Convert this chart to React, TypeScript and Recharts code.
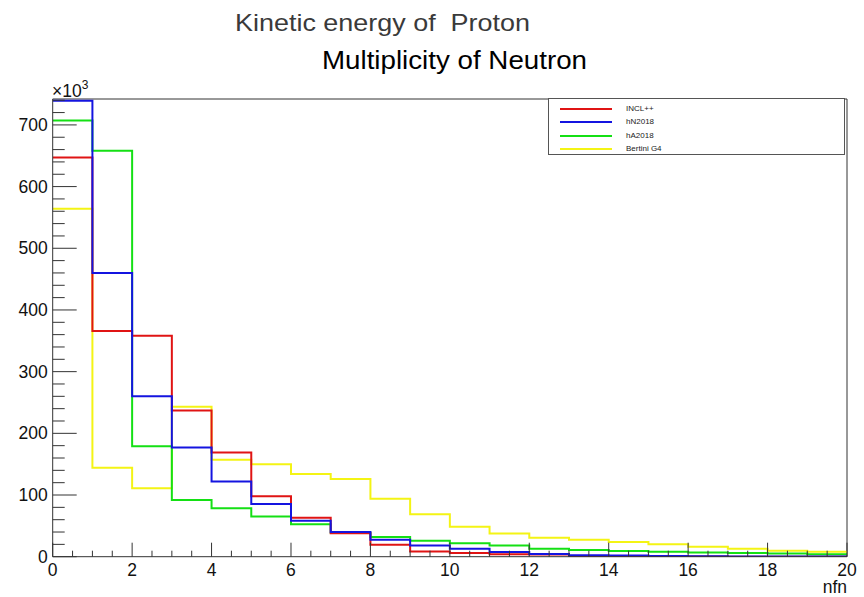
import React from 'react';
import { ComposedChart, Line, XAxis, YAxis, Legend, ReferenceLine, Customized } from 'recharts';

// Bin edges for nfn (20 bins of width 1)
const binEdges = [0, 1, 2, 3, 4, 5, 6, 7, 8, 9, 10, 11, 12, 13, 14, 15, 16, 17, 18, 19, 20];

// Bin contents, in units of 10^3
const inclValues = [647, 366, 358, 237, 169, 98, 63, 38, 19.5, 8.3, 6, 4, 3.5, 1.2, 0.6, 0.3, 0.15, 0.05, 0, 0];
const hn2018Values = [739, 460, 260, 177, 122, 85.5, 58.4, 40, 27.5, 18, 13, 7.5, 4.5, 2.5, 1.8, 1.2, 0.8, 0.5, 0.3, 0.2];
const ha2018Values = [707, 658, 179, 92, 78.5, 65, 52.5, 39, 32, 25.8, 22, 18, 12.8, 10.8, 9.4, 8, 7, 6, 5, 4];
const bertiniValues = [564, 144, 111, 243, 157, 150, 134, 126, 94, 69, 48.7, 37.5, 30.8, 27.3, 24, 20, 16.2, 12.8, 9.5, 8];

const seriesKeys = ['incl', 'hn', 'ha', 'bertini'];
const seriesNames = ['INCL++', 'hN2018', 'hA2018', 'Bertini G4'];
const seriesColors = ['#e01414', '#1414e0', '#14e014', '#f4f414'];
const drawOrder = ['bertini', 'ha', 'incl', 'hn'];

const xTickValues = [0, 0.5, 1, 1.5, 2, 2.5, 3, 3.5, 4, 4.5, 5, 5.5, 6, 6.5, 7, 7.5, 8, 8.5, 9, 9.5, 10,
  10.5, 11, 11.5, 12, 12.5, 13, 13.5, 14, 14.5, 15, 15.5, 16, 16.5, 17, 17.5, 18, 18.5, 19, 19.5, 20];
const xLabelValues = [0, 2, 4, 6, 8, 10, 12, 14, 16, 18, 20];
const yTickValues = [0, 20, 40, 60, 80, 100, 120, 140, 160, 180, 200, 220, 240, 260, 280, 300, 320, 340, 360,
  380, 400, 420, 440, 460, 480, 500, 520, 540, 560, 580, 600, 620, 640, 660, 680, 700, 720, 740];
const yLabelValues = [0, 100, 200, 300, 400, 500, 600, 700];

const titleTop = 'Kinetic energy of  Proton';
const titleMain = 'Multiplicity of Neutron';
const xAxisTitle = 'nfn';

const valueSets: Record<string, number[]> = {
  incl: inclValues,
  hn: hn2018Values,
  ha: ha2018Values,
  bertini: bertiniValues,
};

const data = binEdges.map((x, i) => {
  const idx = Math.min(i, inclValues.length - 1);
  const row: Record<string, number> = { x };
  seriesKeys.forEach((k) => {
    row[k] = valueSets[k][idx];
  });
  return row;
});

const FONT = '"Liberation Sans", Arial, Helvetica, sans-serif';
const AXIS_COLOR = '#333';

const XTick = (props: any) => {
  const { x, y, payload } = props;
  const v = payload.value;
  const major = xLabelValues.indexOf(v) >= 0;
  return (
    <g>
      <line x1={x} x2={x} y1={y} y2={y - (major ? 14 : 6)} stroke={AXIS_COLOR} strokeWidth={1} />
      {major && (
        <text x={x} y={y + 19.5} textAnchor="middle" fontFamily={FONT} fontSize={17.5} fill="#111">
          {v}
        </text>
      )}
    </g>
  );
};

const YTick = (props: any) => {
  const { x, y, payload } = props;
  const v = payload.value;
  const major = yLabelValues.indexOf(v) >= 0;
  return (
    <g>
      <line x1={x} x2={x + (major ? 24 : 12)} y1={y} y2={y} stroke={AXIS_COLOR} strokeWidth={1} />
      {major && (
        <text x={x - 5} y={y + 6} textAnchor="end" fontFamily={FONT} fontSize={17.5} fill="#111">
          {v}
        </text>
      )}
    </g>
  );
};

const LegendBox = () => (
  <div
    style={{
      width: 297,
      height: 57,
      boxSizing: 'border-box',
      border: '1px solid #555',
      background: '#fff',
      position: 'relative',
    }}
  >
    {seriesNames.map((name, i) => (
      <div key={name} style={{ position: 'absolute', left: 0, top: 4 + i * 13.3, height: 13, width: 290 }}>
        <div
          style={{
            position: 'absolute',
            left: 11,
            top: 5,
            width: 52,
            height: 2,
            background: seriesColors[i],
          }}
        />
        <div
          style={{
            position: 'absolute',
            left: 77,
            top: 0,
            fontFamily: FONT,
            fontSize: 8,
            lineHeight: '12px',
            color: '#222',
            whiteSpace: 'nowrap',
          }}
        >
          {name}
        </div>
      </div>
    ))}
  </div>
);

const Titles = () => (
  <g>
    <text
      x={235}
      y={31}
      fontFamily={FONT}
      fontSize={24}
      fill="#3a3a3a"
      textLength={295}
      lengthAdjust="spacingAndGlyphs"
      xmlSpace="preserve"
      style={{ whiteSpace: 'pre' }}
    >
      {titleTop}
    </text>
    <text x={322} y={69} fontFamily={FONT} fontSize={25} fill="#000" textLength={265} lengthAdjust="spacingAndGlyphs">
      {titleMain}
    </text>
    <text x={52} y={97} fontFamily={FONT} fontSize={17.5} fill="#111">
      ×10
      <tspan fontSize={12} dy={-8}>3</tspan>
    </text>
    <text x={847} y={593} textAnchor="end" fontFamily={FONT} fontSize={17.5} fill="#111">
      {xAxisTitle}
    </text>
  </g>
);

export default function App() {
  return (
    <div style={{ position: 'absolute', left: 0, top: 0, width: 864, height: 597, background: '#fff' }}>
      <ComposedChart
        width={864}
        height={597}
        data={data}
        margin={{ top: 99, right: 17, bottom: 0, left: 0 }}
      >
        <XAxis
          type="number"
          dataKey="x"
          domain={[0, 20]}
          ticks={xTickValues}
          interval={0}
          tickSize={0}
          tickMargin={0}
          tickLine={false}
          tick={<XTick />}
          axisLine={{ stroke: AXIS_COLOR, strokeWidth: 1 }}
          height={40.3}
          allowDataOverflow
        />
        <YAxis
          type="number"
          domain={[0, 742]}
          ticks={yTickValues}
          interval={0}
          tickSize={0}
          tickMargin={0}
          tickLine={false}
          tick={<YTick />}
          axisLine={{ stroke: AXIS_COLOR, strokeWidth: 1 }}
          width={52.7}
          allowDataOverflow
        />
        <ReferenceLine y={742} stroke={AXIS_COLOR} strokeWidth={1} ifOverflow="visible" />
        <ReferenceLine x={20} stroke={AXIS_COLOR} strokeWidth={1} ifOverflow="visible" />
        {drawOrder.map((k) => {
          const i = seriesKeys.indexOf(k);
          return (
            <Line
              key={k}
              type="stepAfter"
              dataKey={k}
              name={seriesNames[i]}
              stroke={seriesColors[i]}
              strokeWidth={2}
              dot={false}
              activeDot={false}
              isAnimationActive={false}
            />
          );
        })}
        <Legend
          layout="horizontal"
          verticalAlign="middle"
          align="center"
          content={() => <LegendBox />}
          wrapperStyle={{ position: 'absolute', left: 548, top: 98, width: 297, height: 57 }}
        />
        <Customized component={Titles} />
      </ComposedChart>
    </div>
  );
}
